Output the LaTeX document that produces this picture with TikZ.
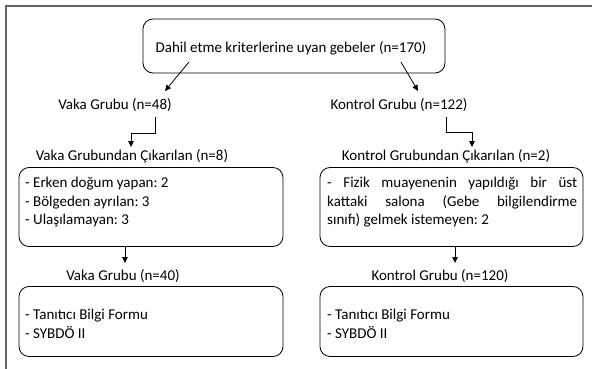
\documentclass[tikz,border=0pt]{standalone}
\usepackage{fontspec}
\setmainfont{Carlito}
\usetikzlibrary{arrows.meta}
\frenchspacing
\begin{document}
\begin{tikzpicture}[x=1pt,y=-1pt,
  box/.style={draw, rounded corners=10pt, line width=0.8pt, inner sep=0pt},
  lbl/.style={font=\fontsize{15}{18.5}\selectfont\frenchspacing, inner sep=0pt},
  arr/.style={line width=0.8pt, -{Triangle[length=6pt,width=5.5pt]}},
  frame/.style={draw=black!60, line width=1.6pt}]
\useasboundingbox (0,0) rectangle (592,369);
\draw[frame] (5.8,369) -- (5.8,5.8) -- (592,5.8);

% top box
\node[box, minimum width=302pt, minimum height=54pt] (top) at (294,46) {};
\node[lbl] (toptext) at (291,48.5) {Dahil etme kriterlerine uyan gebeler (n=170)};

% group labels
\node[lbl] (v48) at (115,105) {Vaka Grubu (n=48)};
\node[lbl] (k122) at (399,105) {Kontrol Grubu (n=122)};

\coordinate (a1s) at (189,62);
\coordinate (a1e) at (165,91);
\coordinate (a2s) at (401,62);
\coordinate (a2e) at (418,91);
\draw[arr] (a1s) -- (a1e);
\draw[arr] (a2s) -- (a2e);

% excluded labels
\node[lbl] (vcik) at (132,156) {Vaka Grubundan Çıkarılan (n=8)};
\node[lbl] (kcik) at (446,156) {Kontrol Grubundan Çıkarılan (n=2)};

\coordinate (e1a) at (155,117);
\coordinate (e1b) at (155,133);
\coordinate (e1c) at (131,133);
\coordinate (e1d) at (131,147);
\draw[arr] (e1a) -- (e1b) -- (e1c) -- (e1d);
\coordinate (e2a) at (446,117);
\coordinate (e2b) at (446,132);
\coordinate (e2c) at (472,132);
\coordinate (e2d) at (472,147);
\draw[arr] (e2a) -- (e2b) -- (e2c) -- (e2d);

% excluded boxes
\node[box, minimum width=264pt, minimum height=79pt] (vbox) at (151,207) {};
\node[lbl, anchor=north west, align=left] (vtext) at (25,177)
  {- Erken doğum yapan: 2\\- Bölgeden ayrılan: 3\\- Ulaşılamayan: 3};
\node[box, minimum width=263pt, minimum height=79pt] (kbox) at (451.5,207) {};
\node[lbl, anchor=north west, align=left] (ktext) at (327,177)
  {\makebox[250pt][s]{- Fizik muayenenin yapıldığı bir üst}\\
   \makebox[250pt][s]{kattaki salona (Gebe bilgilendirme}\\
   sınıfı) gelmek istemeyen: 2};

% down arrows
\draw[arr] (vbox.south -| 125,0) -- (125,263);
\draw[arr] (kbox.south -| 455,0) -- (455,263);

% final labels
\node[lbl] (v40) at (123,276) {Vaka Grubu (n=40)};
\node[lbl] (k120) at (440,276) {Kontrol Grubu (n=120)};

% final boxes
\node[box, minimum width=264pt, minimum height=70pt] (vfin) at (151,321.5) {};
\node[lbl, anchor=north west, align=left] (vfintext) at (25,309)
  {- Tanıtıcı Bilgi Formu\\- SYBDÖ II};
\node[box, minimum width=263pt, minimum height=70pt] (kfin) at (451.5,321.5) {};
\node[lbl, anchor=north west, align=left] (kfintext) at (327,309)
  {- Tanıtıcı Bilgi Formu\\- SYBDÖ II};
\end{tikzpicture}
\end{document}
